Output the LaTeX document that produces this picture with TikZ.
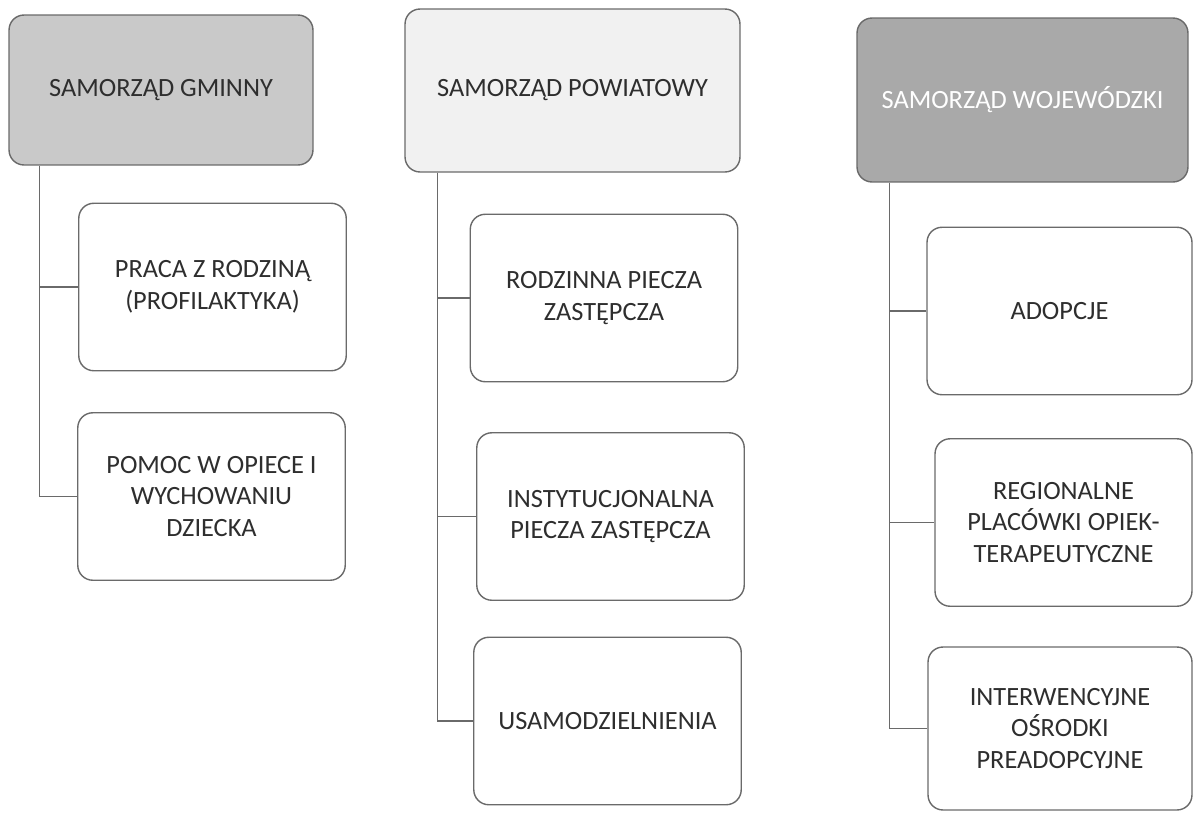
\documentclass[tikz,border=0pt]{standalone}
\usepackage{fontspec}
\setmainfont{Carlito}
\usepackage{xcolor}
\usepackage{tikz}
\usetikzlibrary{calc}

\definecolor{gminagray}{HTML}{C9C9C9}
\definecolor{powiatgray}{HTML}{F1F1F1}
\definecolor{wojgray}{HTML}{A9A9A9}
\definecolor{edgegray}{HTML}{6A6A6A}
\definecolor{textgray}{HTML}{2E2E2E}

\tikzset{
  head/.style={draw=edgegray, line width=0.8pt, rounded corners=0.3cm, align=center,
    font=\fontsize{15}{18}\selectfont, text=textgray, inner sep=0pt},
  task/.style={draw=edgegray, line width=0.8pt, rounded corners=0.3cm, fill=white, align=center,
    font=\fontsize{15}{18}\selectfont, text=textgray, inner sep=0pt,
    minimum width=5.35cm, minimum height=3.35cm},
  link/.style={draw=edgegray, line width=0.9pt}
}

\begin{document}
\begin{tikzpicture}[x=0.02cm, y=-0.02cm]
\useasboundingbox (0,0) rectangle (1194,812);

% naglowki
\node[head, fill=gminagray, minimum width=6.08cm, minimum height=3.0cm] (gmina) at (161,90) {SAMORZĄD GMINNY};
\node[head, fill=powiatgray, minimum width=6.7cm, minimum height=3.26cm] (powiat) at (572.5,90.5) {SAMORZĄD POWIATOWY};
\node[head, fill=wojgray, text=white, minimum width=6.62cm, minimum height=3.28cm] (woj) at (1022.5,100) {SAMORZĄD WOJEWÓDZKI};

% gmina
\node[task] (g1) at (212.5,287) {PRACA Z RODZINĄ\\(PROFILAKTYKA)};
\node[task] (g2) at (211.5,496.5) {POMOC W OPIECE I\\WYCHOWANIU\\DZIECKA};

% powiat
\node[task] (p1) at (604,298) {RODZINNA PIECZA\\ZASTĘPCZA};
\node[task] (p2) at (610.5,516.5) {INSTYTUCJONALNA\\PIECZA ZASTĘPCZA};
\node[task] (p3) at (607.5,721) {USAMODZIELNIENIA};

% wojewodztwo
\node[task, minimum width=5.3cm] (w1) at (1059.5,311) {ADOPCJE};
\node[task, minimum width=5.14cm] (w2) at (1063.5,522.5) {REGIONALNE\\PLACÓWKI OPIEK-\\TERAPEUTYCZNE};
\node[task, minimum width=5.28cm, minimum height=3.26cm] (w3) at (1060,728.5) {INTERWENCYJNE\\OŚRODKI\\PREADOPCYJNE};

\coordinate (gtrunk) at ($(gmina.south west)+(31,0)$);
\coordinate (ptrunk) at ($(powiat.south west)+(33,0)$);
\coordinate (wtrunk) at ($(woj.south west)+(33,0)$);

\draw[link] (gtrunk) |- (g1.west);
\draw[link] (gtrunk) |- (g2.west);
\draw[link] (ptrunk) |- (p1.west);
\draw[link] (ptrunk) |- (p2.west);
\draw[link] (ptrunk) |- (p3.west);
\draw[link] (wtrunk) |- (w1.west);
\draw[link] (wtrunk) |- (w2.west);
\draw[link] (wtrunk) |- (w3.west);
\end{tikzpicture}
\end{document}
